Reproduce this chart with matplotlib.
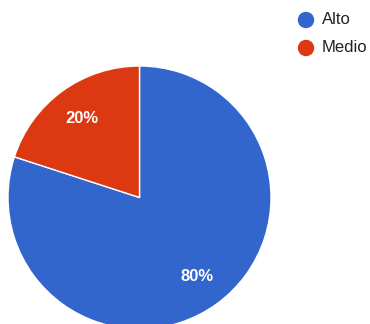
import matplotlib.pyplot as plt
from matplotlib.patches import Circle

labels = ["Alto", "Medio"]
values = [80, 20]
colors = ["#3366cc", "#dc3912"]

plt.rcParams['font.family'] = ['Liberation Sans', 'DejaVu Sans']

W, H = 370, 324
fig = plt.figure(figsize=(W / 100, H / 100), dpi=100)

# pie box in pixels: left 8, top 66, diameter 263 (runs off the bottom edge)
px_l, px_t, d = 8, 66, 263
ax = fig.add_axes([px_l / W, (H - px_t - d) / H, d / W, d / H])
ax.axis('off')

wedges, texts, autotexts = ax.pie(
    values, colors=colors, startangle=90, counterclock=False,
    radius=1, autopct='%d%%', pctdistance=0.74,
    wedgeprops=dict(edgecolor='white', linewidth=1.0),
    textprops=dict(color='white', fontsize=12, fontweight='bold'))
ax.set_xlim(-1, 1)
ax.set_ylim(-1, 1)

# legend drawn in pixel space
lg = fig.add_axes([0, 0, 1, 1], facecolor='none')
lg.set_xlim(0, W)
lg.set_ylim(H, 0)
lg.axis('off')
for i, (lab, col) in enumerate(zip(labels, colors)):
    y = 20 + 28 * i
    lg.add_patch(Circle((306, y), 7.5, color=col))
    lg.text(322, y, lab, fontsize=12, color='#222222', va='center', ha='left')

fig.savefig("out.png", dpi=100)
